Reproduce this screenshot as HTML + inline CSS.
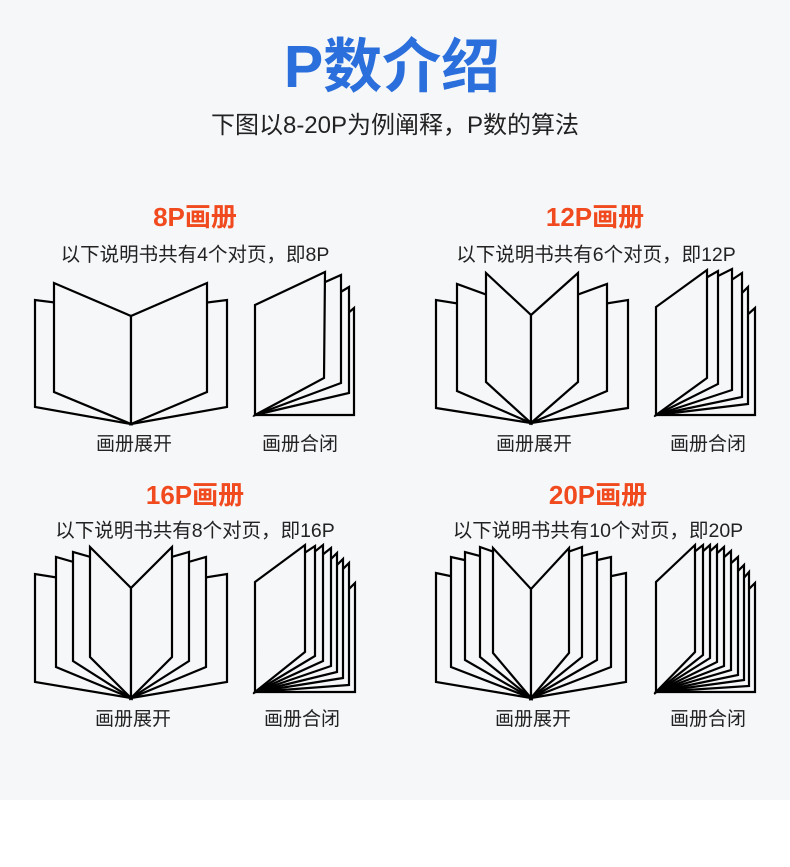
<!DOCTYPE html>
<html><head><meta charset="utf-8"><style>
body{margin:0;width:790px;height:867px;background:#fff;overflow:hidden;font-family:"Liberation Sans","Noto Sans CJK SC",sans-serif;}
.bg{position:absolute;left:0;top:0;width:790px;height:800px;background:#f6f7f9;}
.t{position:absolute;white-space:nowrap;transform:translateX(-50%);line-height:1.4;}
.h{font-size:26px;font-weight:bold;color:#f04a1e;}
.d{font-size:19.5px;color:#222;}
.l{font-size:19px;color:#222;}
</style></head><body>
<div class="bg"></div>
<div class="t" style="left:392px;top:26px;font-size:59px;font-weight:bold;color:#2a6fdb;">P数介绍</div>
<div class="t" style="left:395px;top:109px;font-size:24px;color:#222;">下图以8-20P为例阐释，P数的算法</div>
<div class="t h" style="left:195px;top:199px;">8P画册</div>
<div class="t h" style="left:595px;top:199px;">12P画册</div>
<div class="t h" style="left:195px;top:477px;">16P画册</div>
<div class="t h" style="left:598px;top:477px;">20P画册</div>
<div class="t d" style="left:195px;top:242px;">以下说明书共有4个对页，即8P</div>
<div class="t d" style="left:596px;top:242px;">以下说明书共有6个对页，即12P</div>
<div class="t d" style="left:195px;top:518px;">以下说明书共有8个对页，即16P</div>
<div class="t d" style="left:598px;top:518px;">以下说明书共有10个对页，即20P</div>
<div class="t l" style="left:134px;top:432px;">画册展开</div>
<div class="t l" style="left:300px;top:432px;">画册合闭</div>
<div class="t l" style="left:534px;top:432px;">画册展开</div>
<div class="t l" style="left:708px;top:432px;">画册合闭</div>
<div class="t l" style="left:133px;top:707px;">画册展开</div>
<div class="t l" style="left:302px;top:707px;">画册合闭</div>
<div class="t l" style="left:533px;top:707px;">画册展开</div>
<div class="t l" style="left:708px;top:707px;">画册合闭</div>
<svg width="790" height="867" style="position:absolute;left:0;top:0" fill="#f6f7f9" stroke="#000" stroke-width="2.2" stroke-linejoin="miter">
<polygon points="131,424 35,407 35,300 59,303"/>
<polygon points="131,424 227,407 227,300 203,303"/>
<polygon points="131,424 54,392 54,283 131,316"/>
<polygon points="131,424 207,392 207,283 131,316"/>
<polygon points="255,415 354,415 354,308 347,314"/>
<polygon points="255,415 349,393 349,287 339,293"/>
<polygon points="255,415 341,383 341,275 323,283"/>
<polygon points="255,415 324,378 325,272 255,305"/>
<polygon points="531,423 436,408 436,300 461,304"/>
<polygon points="531,423 628,408 628,300 603,304"/>
<polygon points="531,423 457,391 457,284 490,296"/>
<polygon points="531,423 607,391 607,284 574,296"/>
<polygon points="531,423 486,382 486,273 531,315"/>
<polygon points="531,423 578,382 578,273 531,315"/>
<polygon points="656,415 755,415 755,308 746,316"/>
<polygon points="656,415 748,404 748,287 740,295"/>
<polygon points="656,415 742,397 742,273 730,281"/>
<polygon points="656,415 732,390 732,269 716,277"/>
<polygon points="656,415 718,384 718,271 704,279"/>
<polygon points="656,415 707,378 707,270 656,307"/>
<polygon points="131,698 35,682 35,574 60,578"/>
<polygon points="131,698 227,682 227,574 202,578"/>
<polygon points="131,698 56,667 56,557 77,563"/>
<polygon points="131,698 206,667 206,557 185,563"/>
<polygon points="131,698 73,661 73,552 94,558"/>
<polygon points="131,698 189,661 189,552 168,558"/>
<polygon points="131,698 90,657 90,547 131,588"/>
<polygon points="131,698 172,657 172,547 131,588"/>
<polygon points="255,692 355,692 355,583 347,591"/>
<polygon points="255,692 349,685 349,563 341,571"/>
<polygon points="255,692 343,678 343,559 335,567"/>
<polygon points="255,692 337,672 337,553 329,561"/>
<polygon points="255,692 331,666 331,548 321,556"/>
<polygon points="255,692 323,661 323,545 313,553"/>
<polygon points="255,692 315,656 315,546 303,554"/>
<polygon points="255,692 305,652 305,545 255,582"/>
<polygon points="531,698 436,682 436,573 455,577"/>
<polygon points="531,698 626,682 626,573 607,577"/>
<polygon points="531,698 451,667 451,557 469,561"/>
<polygon points="531,698 611,667 611,557 593,561"/>
<polygon points="531,698 465,660 465,552 484,557"/>
<polygon points="531,698 597,660 597,552 578,557"/>
<polygon points="531,698 480,657 480,547 497,553"/>
<polygon points="531,698 582,657 582,547 565,553"/>
<polygon points="531,698 493,653 493,548 531,589"/>
<polygon points="531,698 569,653 569,548 531,589"/>
<polygon points="656,692 755,692 755,583 747,591"/>
<polygon points="656,692 749,686 749,572 742,580"/>
<polygon points="656,692 744,680 744,565 736,573"/>
<polygon points="656,692 738,675 738,557 729,565"/>
<polygon points="656,692 731,670 731,551 722,559"/>
<polygon points="656,692 724,666 724,547 715,555"/>
<polygon points="656,692 717,662 717,545 708,553"/>
<polygon points="656,692 710,658 710,545 701,553"/>
<polygon points="656,692 703,655 703,545 693,553"/>
<polygon points="656,692 695,652 695,545 656,582"/>
</svg>
</body></html>
